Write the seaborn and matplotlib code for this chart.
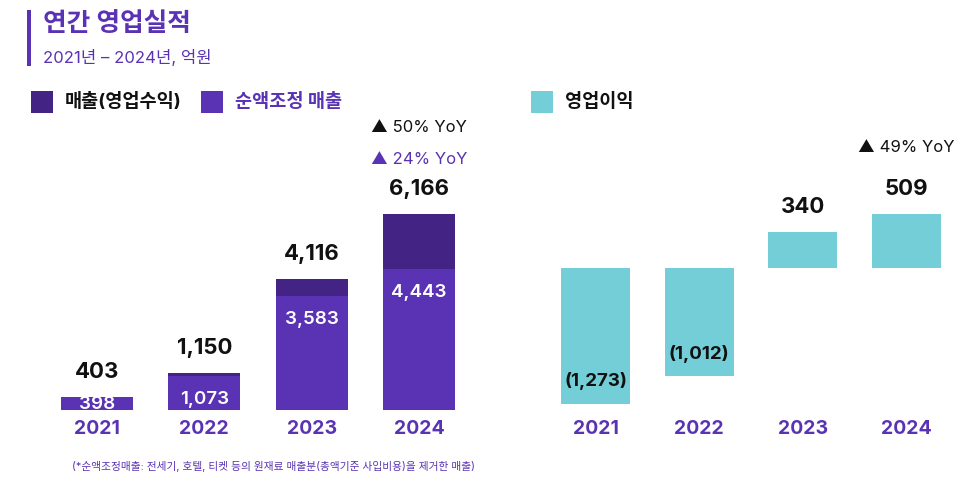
import seaborn as sns
import matplotlib.pyplot as plt
from matplotlib.patches import Rectangle

# 데이터 (억원)
years = ["2021", "2022", "2023", "2024"]
revenue = [403, 1150, 4116, 6166]          # 매출(영업수익)
net_revenue = [398, 1073, 3583, 4443]      # 순액조정 매출
op_profit = [-1273, -1012, 340, 509]       # 영업이익
revenue_yoy = "▲ 50% YoY"
net_yoy = "▲ 24% YoY"
profit_yoy = "▲ 49% YoY"

DARK = "#432485"
PURPLE = "#5A33B4"
CYAN = "#74CED7"
INK = "#111111"
FONTS = ["Inter", "Noto Sans CJK KR", "DejaVu Sans"]

sns.set_theme(style="white")
plt.rcParams["font.family"] = FONTS

W, H = 976, 483
fig = plt.figure(figsize=(W / 100, H / 100), dpi=100)


def px(x, y):
    return x / W, 1 - y / H


def fmt(v):
    s = "{:,}".format(abs(v))
    return f"({s})" if v < 0 else s


# 왼쪽: 매출
ax1 = fig.add_axes([43 / W, 73 / H, 430 / W, 290 / H])
sns.barplot(x=years, y=revenue, color=DARK, width=0.67, ax=ax1, saturation=1, linewidth=0)
sns.barplot(x=years, y=net_revenue, color=PURPLE, width=0.67, ax=ax1, saturation=1, linewidth=0)
ax1.set_ylim(0, 9120)

for i, (tot, net) in enumerate(zip(revenue, net_revenue)):
    ax1.annotate(fmt(tot), (i, tot), xytext=(0, 18), textcoords="offset points",
                 ha="center", va="center", fontsize=16, fontweight="bold", color=INK)
    off = -17 if net > 1000 else -5
    t = ax1.annotate(fmt(net), (i, net), xytext=(0, off), textcoords="offset points",
                     ha="center", va="center", fontsize=13.5, fontweight="semibold",
                     color="white", annotation_clip=False)
    t.set_clip_on(True)
    t.set_clip_box(ax1.bbox)

ax1.annotate(revenue_yoy, (3, revenue[3]), xytext=(0, 62), textcoords="offset points",
             ha="center", va="center", fontsize=12, color=INK)
ax1.annotate(net_yoy, (3, revenue[3]), xytext=(0, 39), textcoords="offset points",
             ha="center", va="center", fontsize=12, color=PURPLE)

# 오른쪽: 영업이익
ax2 = fig.add_axes([544 / W, 73 / H, 414 / W, 290 / H])
sns.barplot(x=years, y=op_profit, color=CYAN, width=0.67, ax=ax2, saturation=1, linewidth=0)
ax2.set_ylim(-1332, 1388)

for i, v in enumerate(op_profit):
    if v >= 0:
        ax2.annotate(fmt(v), (i, v), xytext=(0, 18), textcoords="offset points",
                     ha="center", va="center", fontsize=16, fontweight="bold", color=INK)
    else:
        ax2.annotate(fmt(v), (i, v), xytext=(0, 16), textcoords="offset points",
                     ha="center", va="center", fontsize=13.5, fontweight="bold", color=INK)

ax2.annotate(profit_yoy, (3, op_profit[3]), xytext=(0, 48), textcoords="offset points",
             ha="center", va="center", fontsize=12, color=INK)

for ax in (ax1, ax2):
    sns.despine(ax=ax, left=True, bottom=True)
    ax.set_yticks([])
    ax.set_xlabel("")
    ax.set_ylabel("")
    ax.tick_params(axis="x", length=0, pad=7.5)
    for lab in ax.get_xticklabels():
        lab.set_fontsize(14)
        lab.set_fontweight("bold")
        lab.set_color(PURPLE)
    ax.patch.set_alpha(0)

# 제목
fig.patches.append(Rectangle(px(27, 66), 4 / W, 56 / H, transform=fig.transFigure,
                             color=PURPLE, lw=0))
fig.text(*px(43, 24), "연간 영업실적", fontsize=18.5, fontweight="bold",
         color=PURPLE, va="center", ha="left")
fig.text(*px(43, 58), "2021년 – 2024년, 억원", fontsize=12,
         color=PURPLE, va="center", ha="left")

# 범례
legend_items = [
    (31, DARK, "매출(영업수익)", INK),
    (201, PURPLE, "순액조정 매출", PURPLE),
    (531, CYAN, "영업이익", INK),
]
for x0, c, label, tc in legend_items:
    fig.patches.append(Rectangle(px(x0, 113), 22 / W, 22 / H,
                                 transform=fig.transFigure, color=c, lw=0))
    fig.text(*px(x0 + 34, 102), label, fontsize=13.4, fontweight="bold",
             color=tc, va="center", ha="left")

# 각주
fig.text(*px(72, 466), "(*순액조정매출: 전세기, 호텔, 티켓 등의 원재료 매출분(총액기준 사입비용)을 제거한 매출)",
         fontsize=7.7, color=PURPLE, va="center", ha="left")

fig.savefig("out.png", dpi=100)
